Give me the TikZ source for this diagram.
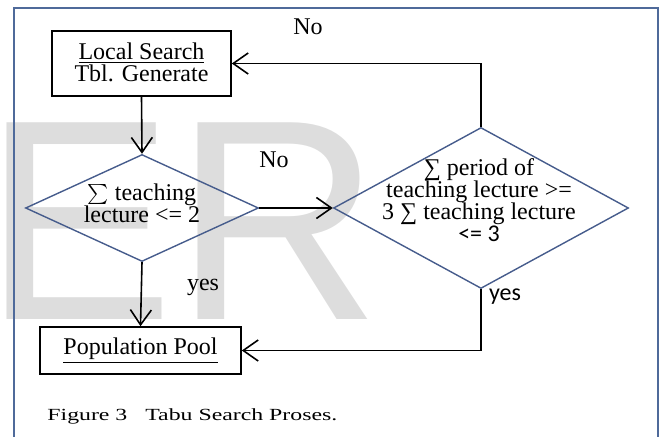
\documentclass[tikz,border=0pt]{standalone}
\usepackage{fontspec}
\setmainfont{Liberation Serif}
\newfontfamily\wmfont{Liberation Sans}
\newfontfamily\calfont{Carlito}
\newfontfamily\capfont[FakeStretch=1.4]{Liberation Serif}
\usetikzlibrary{shapes.geometric,arrows.meta}
\definecolor{framec}{RGB}{79,106,154}
\definecolor{diac}{RGB}{70,92,140}
\definecolor{wmgray}{RGB}{221,221,221}

\begin{document}
\begin{tikzpicture}[x=0.5pt,y=-0.5pt,
    box/.style={draw,line width=0.8pt,inner sep=0pt},
    dia/.style={diamond,draw=diac,line width=0.7pt,inner sep=0pt},
    txt/.style={align=center,inner sep=0pt,font=\fontsize{12}{11}\selectfont},
    flow/.style={line width=0.8pt,-{Straight Barb[length=7.5pt,width=10.5pt]}}]
    \useasboundingbox (0,0) rectangle (662,437);

    % watermark and frame %
    \node[anchor=base west,inner sep=0pt,text=wmgray,font=\wmfont\fontsize{143}{143}\selectfont] (wm) at (-17,320) {ER};
    \draw[framec,line width=1pt] (14,445) -- (14,8) -- (658,8) -- (658,445);

    % boxes and decisions %
    \node[box,minimum width=89.5pt,minimum height=32.5pt] (ls) at (141.5,63.5) {};
    \node[txt] (lstxt) at (141.5,62) {\underline{Local Search}\\Tbl. Generate};
    \node[dia,minimum width=116.5pt,minimum height=53.5pt] (d1) at (142,208) {};
    \node[txt] (d1txt) at (142,203) {$\sum$ teaching\\lecture <= 2};
    \node[dia,minimum width=147.5pt,minimum height=80.5pt] (d2) at (481,208) {};
    \node[txt] (d2txt) at (479,200) {∑ period of\\teaching lecture >=\\3 ∑ teaching lecture\\{\calfont <= 3}};
    \node[box,minimum width=100.5pt,minimum height=23.5pt] (pp) at (140.5,350.5) {};
    \node[txt] (pptxt) at (pp) {\underline{Population Pool}};

    % connectors %
    \draw[flow] (ls.south) -- (d1.north);
    \draw[flow] (d1.east) -- (d2.west);
    \draw[flow] (d1.south) -- (pp.north);
    \draw[flow] (d2.north) |- (ls.east);
    \draw[flow] (d2.south) |- (pp.east);

    % labels %
    \node[txt] (no1) at (308,27) {No};
    \node[txt] (no2) at (274,160) {No};
    \node[txt] (yes1) at (203,287) {yes};
    \node[txt,font=\calfont\fontsize{12}{12}\selectfont] (yes2) at (505,297) {yes};
    \node[anchor=base west,inner sep=0pt,font=\capfont\fontsize{8.5}{10}\selectfont] (cap) at (47,420) {Figure 3\hspace{6pt} Tabu Search Proses.};
\end{tikzpicture}
\end{document}
